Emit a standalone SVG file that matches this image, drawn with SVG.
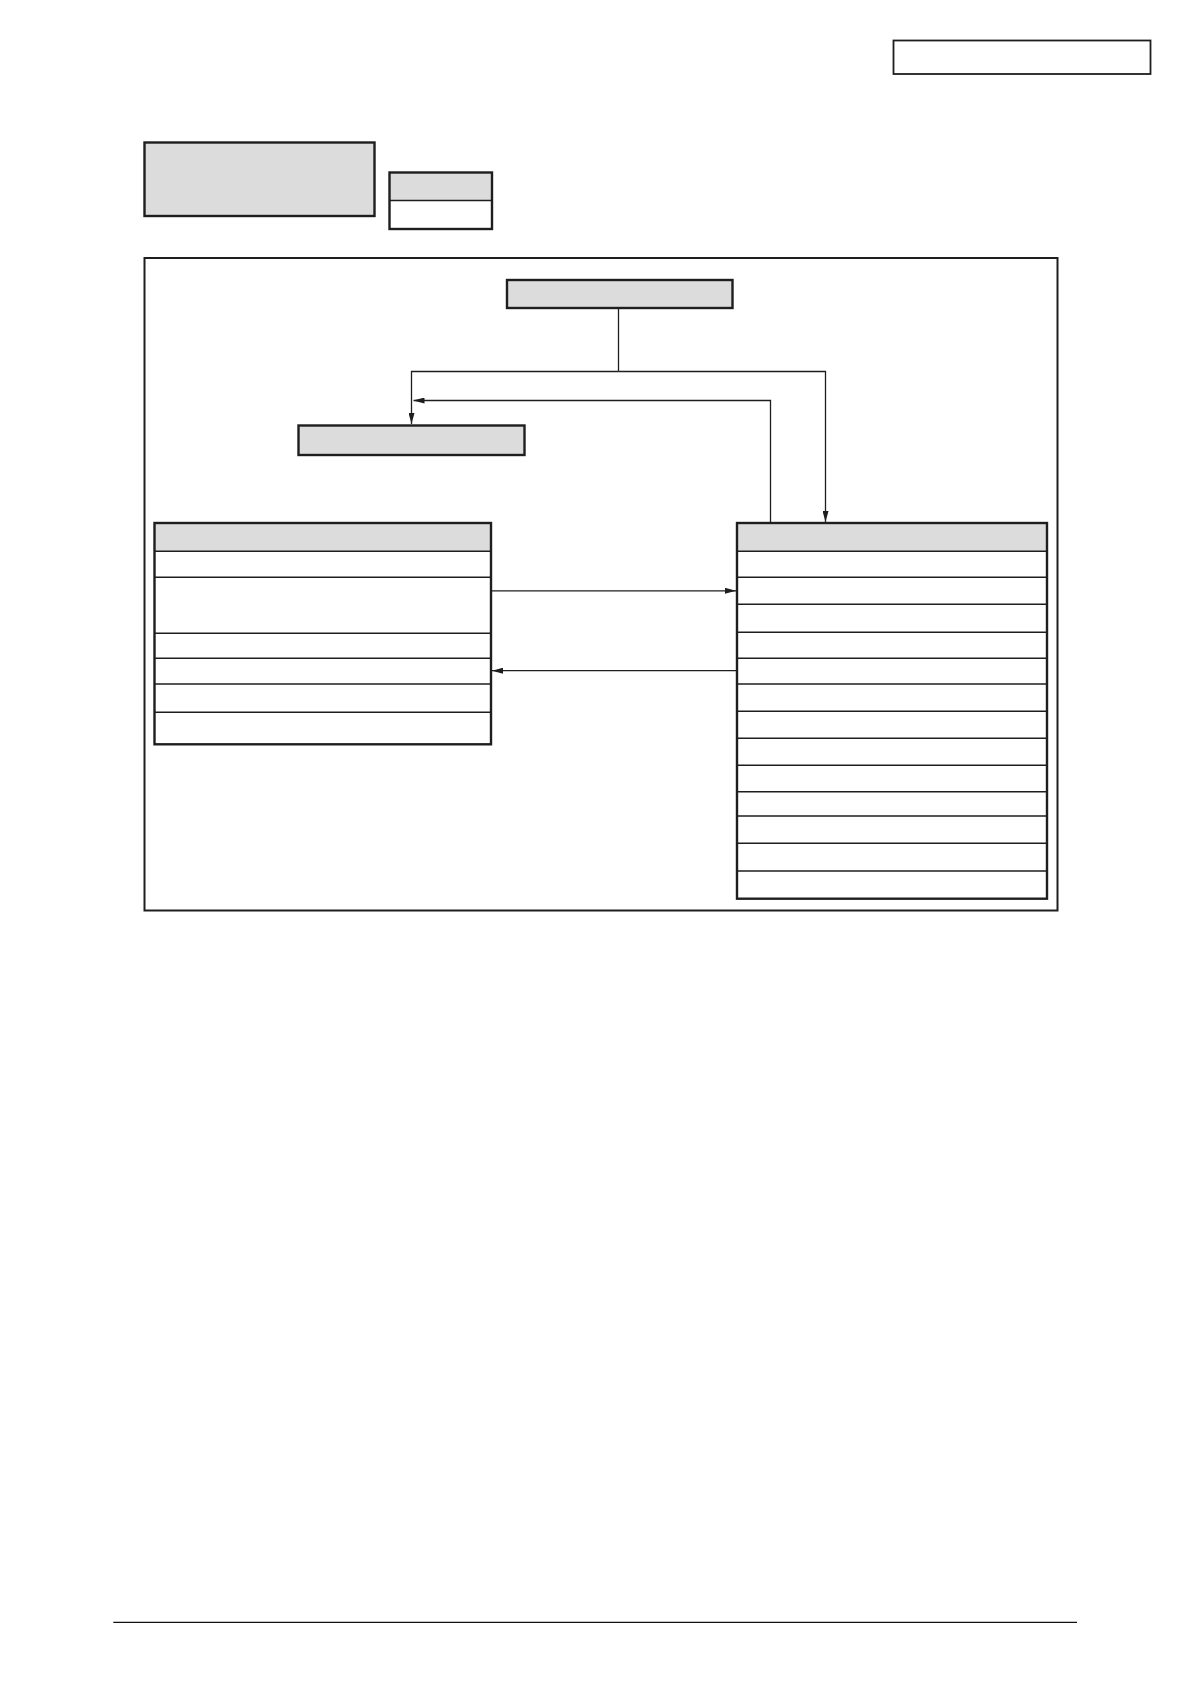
<svg xmlns="http://www.w3.org/2000/svg" width="1190" height="1684" viewBox="0 0 1190 1684">
  <style>
    .box { fill: #ffffff; stroke: #1e1e1e; stroke-width: 1.8; }
    .gray { fill: #dcdcdc; stroke: #1e1e1e; stroke-width: 2.4; }
    .tbl { fill: none; stroke: #1e1e1e; stroke-width: 2.4; }
    .hdr { fill: #dcdcdc; stroke: none; }
    .row { stroke: #1e1e1e; stroke-width: 1.5; fill: none; }
    .conn { stroke: #1e1e1e; stroke-width: 1.3; fill: none; }
    .frame { fill: none; stroke: #1e1e1e; stroke-width: 2; }
  </style>
  <defs>
    <marker id="arr" viewBox="0 0 11 6" refX="11" refY="3" markerWidth="11" markerHeight="6" markerUnits="userSpaceOnUse" orient="auto">
      <path d="M0,0 L11,3 L0,6 Z" fill="#1e1e1e"/>
    </marker>
  </defs>
  <rect width="1190" height="1684" fill="#ffffff"/>

  <g id="page-label">
    <rect class="box" x="893.5" y="40.5" width="257" height="33.5"/>
  </g>

  <g id="title-box">
    <rect class="gray" x="144.5" y="142.5" width="230" height="73.5"/>
  </g>

  <g id="legend">
    <rect x="389.5" y="172.5" width="102.5" height="28" fill="#dcdcdc"/>
    <rect class="tbl" x="389.5" y="172.5" width="102.5" height="56.5"/>
    <line class="row" x1="389.5" y1="200.5" x2="492" y2="200.5"/>
  </g>

  <g id="frame">
    <rect class="frame" x="144.5" y="258" width="913" height="652.5"/>
  </g>

  <g id="top-node">
    <rect class="gray" x="507" y="280" width="225.5" height="28"/>
  </g>

  <g id="mid-node">
    <rect class="gray" x="298.5" y="425.5" width="226" height="29.5"/>
  </g>

  <g id="left-table">
    <rect class="hdr" x="154.5" y="523" width="336.5" height="28.3"/>
    <line class="row" x1="154.5" y1="551.3" x2="491" y2="551.3"/>
    <line class="row" x1="154.5" y1="577.3" x2="491" y2="577.3"/>
    <line class="row" x1="154.5" y1="633.3" x2="491" y2="633.3"/>
    <line class="row" x1="154.5" y1="658.3" x2="491" y2="658.3"/>
    <line class="row" x1="154.5" y1="684" x2="491" y2="684"/>
    <line class="row" x1="154.5" y1="712.3" x2="491" y2="712.3"/>
    <rect class="tbl" x="154.5" y="523" width="336.5" height="221.3"/>
  </g>

  <g id="right-table">
    <rect class="hdr" x="737" y="523" width="310" height="28.3"/>
    <line class="row" x1="737" y1="551.3" x2="1047" y2="551.3"/>
    <line class="row" x1="737" y1="577.3" x2="1047" y2="577.3"/>
    <line class="row" x1="737" y1="604.3" x2="1047" y2="604.3"/>
    <line class="row" x1="737" y1="632.3" x2="1047" y2="632.3"/>
    <line class="row" x1="737" y1="658.3" x2="1047" y2="658.3"/>
    <line class="row" x1="737" y1="684" x2="1047" y2="684"/>
    <line class="row" x1="737" y1="711.3" x2="1047" y2="711.3"/>
    <line class="row" x1="737" y1="738.3" x2="1047" y2="738.3"/>
    <line class="row" x1="737" y1="765.3" x2="1047" y2="765.3"/>
    <line class="row" x1="737" y1="791.7" x2="1047" y2="791.7"/>
    <line class="row" x1="737" y1="816" x2="1047" y2="816"/>
    <line class="row" x1="737" y1="843.3" x2="1047" y2="843.3"/>
    <line class="row" x1="737" y1="871" x2="1047" y2="871"/>
    <rect class="tbl" x="737" y="523" width="310" height="375.7"/>
  </g>

  <g id="connectors">
    <polyline class="conn" points="618.5,308 618.5,371.5"/>
    <polyline class="conn" points="618.5,371.5 411.5,371.5 411.5,424" marker-end="url(#arr)"/>
    <polyline class="conn" points="618.5,371.5 825.5,371.5 825.5,522" marker-end="url(#arr)"/>
    <polyline class="conn" points="770.5,523 770.5,400.5 413.5,400.5" marker-end="url(#arr)"/>
    <line class="conn" x1="491" y1="590.8" x2="736" y2="590.8" marker-end="url(#arr)"/>
    <line class="conn" x1="737" y1="670.7" x2="492" y2="670.7" marker-end="url(#arr)"/>
  </g>

  <g id="footer-rule">
    <line x1="113.3" y1="1622.3" x2="1077" y2="1622.3" stroke="#111111" stroke-width="1.3"/>
  </g>
</svg>
